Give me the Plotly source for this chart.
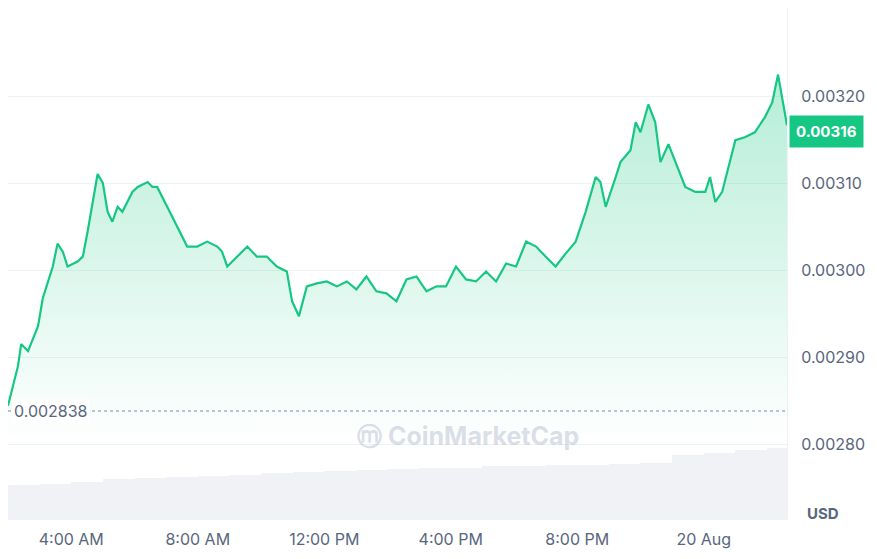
import pandas as pd
import plotly.graph_objects as go

# minutes after 19 Aug 02:00
minutes = [0, 19, 25, 38, 57, 66, 85, 94, 104, 113, 132, 142, 151, 161, 170, 180, 189, 198, 208, 217,
           227, 236, 246, 265, 274, 283, 302, 321, 331, 340, 359, 378, 397, 406, 416, 435, 454, 472, 491, 510,
           529, 539, 552, 567, 586, 605, 624, 643, 661, 680, 699, 718, 737, 756, 775, 794, 813, 831, 850, 869,
           888, 907, 926, 945, 964, 983, 1002, 1020, 1039, 1058, 1077, 1096, 1115, 1124, 1134, 1153, 1162, 1181,
           1191, 1200, 1215, 1228, 1238, 1253, 1266, 1285, 1304, 1323, 1332, 1342, 1355, 1370, 1380, 1398, 1417,
           1436, 1450, 1461, 1478]
price = [0.0028442, 0.0028900, 0.0029151, 0.0029071, 0.0029357, 0.0029678, 0.0030044, 0.0030307, 0.0030215,
         0.0030044, 0.0030101, 0.0030158, 0.0030444, 0.0030787, 0.0031108, 0.0031002, 0.0030673, 0.0030559,
         0.0030730, 0.0030673, 0.0030787, 0.0030902, 0.0030959, 0.0031016, 0.0030959, 0.0030959, 0.0030730,
         0.0030501, 0.0030387, 0.0030273, 0.0030273, 0.0030330, 0.0030273, 0.0030215, 0.0030044, 0.0030158,
         0.0030273, 0.0030158, 0.0030158, 0.0030044, 0.0029987, 0.0029643, 0.0029472, 0.0029815, 0.0029849,
         0.0029872, 0.0029815, 0.0029872, 0.0029781, 0.0029929, 0.0029758, 0.0029735, 0.0029643, 0.0029895,
         0.0029929, 0.0029758, 0.0029815, 0.0029815, 0.0030044, 0.0029895, 0.0029872, 0.0029987, 0.0029872,
         0.0030078, 0.0030044, 0.0030330, 0.0030273, 0.0030158, 0.0030044, 0.0030192, 0.0030330, 0.0030673,
         0.0031073, 0.0031016, 0.0030730, 0.0031073, 0.0031245, 0.0031382, 0.0031703, 0.0031588, 0.0031908,
         0.0031703, 0.0031245, 0.0031451, 0.0031245, 0.0030959, 0.0030902, 0.0030902, 0.0031073, 0.0030787,
         0.0030902, 0.0031245, 0.0031497, 0.0031531, 0.0031588, 0.0031760, 0.0031931, 0.0032252, 0.0031668]

# hourly volume (relative)
vol_hours = list(range(0, 25))
volume = [30, 31, 33, 35, 36, 37, 38, 39, 40, 41, 42, 43, 44, 45, 45, 46, 46, 47, 47, 48, 49, 56, 58, 60, 62]

start = pd.Timestamp("2023-08-19 02:00")
t = [start + pd.Timedelta(minutes=m) for m in minutes]
tv = [start + pd.Timedelta(hours=h, minutes=30) for h in vol_hours]

tick_vals = [start + pd.Timedelta(hours=h) for h in (2, 6, 10, 14, 18, 22)]
tick_text = ["4:00 AM", "8:00 AM", "12:00 PM", "4:00 PM", "8:00 PM", "20 Aug"]

open_price = 0.002838
last_price = "0.00316"
green = "#16c784"
grey = "#58667e"

ymin, ymax = 0.0027127, 0.0033018

fig = go.Figure()
fig.add_trace(go.Bar(x=tv, y=volume, yaxis="y2", marker_color="#f0f2f5",
                     marker_line_width=0, width=3600 * 1000, hoverinfo="skip"))
fig.add_trace(go.Scatter(x=t, y=[ymin] * len(t), mode="lines", line_width=0, hoverinfo="skip"))
fig.add_trace(go.Scatter(
    x=t, y=price, mode="lines", line=dict(color=green, width=2.2),
    fill="tonexty",
    fillgradient=dict(type="vertical", start=0.00280, stop=0.00323,
                      colorscale=[[0, "rgba(22,199,132,0)"], [1, "rgba(22,199,132,0.32)"]]),
))

fig.add_hline(y=open_price, line=dict(color="#a6b0c3", width=1.5, dash="dot"))
fig.add_annotation(x=0, xref="paper", y=open_price, text=str(open_price), showarrow=False,
                   xanchor="left", bgcolor="white", font=dict(size=16, color=grey), xshift=4)
fig.add_annotation(x=1, xref="paper", y=float(last_price), text="<b>" + last_price + "</b>",
                   showarrow=False, xanchor="left", bgcolor=green, font=dict(size=15, color="white"),
                   borderpad=6, xshift=2)
fig.add_annotation(x=1, xref="paper", y=-0.01, yref="paper", text="<b>USD</b>", showarrow=False,
                   xanchor="left", yanchor="bottom", font=dict(size=15, color=grey), xshift=18)
fig.add_annotation(x=0.735, xref="paper", y=0.13, yref="paper", text="<b>ⓜ CoinMarketCap</b>",
                   showarrow=False, font=dict(size=25, color="rgba(160,170,195,0.4)"))

fig.update_layout(
    width=869, height=551, margin=dict(l=0, r=90, t=0, b=39),
    paper_bgcolor="white", plot_bgcolor="white", showlegend=False,
    font=dict(family="Inter", size=16, color=grey),
    bargap=0,
    xaxis=dict(range=[start, start + pd.Timedelta(minutes=1478)], tickvals=tick_vals, ticktext=tick_text,
               showgrid=False, zeroline=False, showline=False, ticks="", ticklabelstandoff=8),
    yaxis=dict(range=[ymin, ymax], side="right", tickvals=[0.0028, 0.0029, 0.0030, 0.0031, 0.0032],
               tickformat=".5f", gridcolor="#eff2f5", zeroline=False, showline=True, linecolor="#eff2f5",
               ticklabelstandoff=10),
    yaxis2=dict(overlaying="y", range=[0, 440], visible=False),
)

fig.write_html("out.html")
